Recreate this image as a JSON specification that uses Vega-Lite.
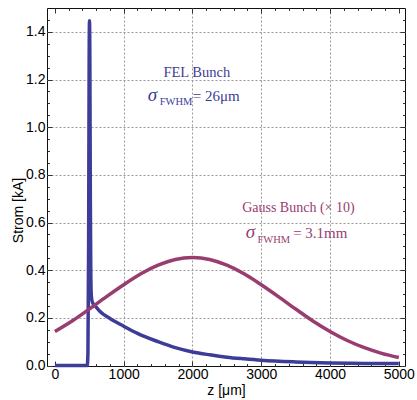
{
  "$schema": "https://vega.github.io/schema/vega-lite/v6.json",
  "width": 358,
  "height": 358,
  "autosize": "none",
  "padding": {"left": 47, "top": 8, "right": 12, "bottom": 34},
  "background": "white",
  "config": {
    "view": {"stroke": "#111", "strokeWidth": 1},
    "axis": {"domain": false, "labelFont": "Liberation Sans", "titleFont": "Liberation Sans", "labelColor": "#000", "titleColor": "#000", "tickColor": "#333", "titleFontWeight": "normal"}
  },
  "datasets": {
    "fel": [
      {"z": 0, "I": 0}, {"z": 470, "I": 0}, {"z": 480, "I": 0.05}, {"z": 490, "I": 0.5},
      {"z": 498, "I": 1.3}, {"z": 503, "I": 1.447}, {"z": 508, "I": 1.3}, {"z": 515, "I": 0.7},
      {"z": 522, "I": 0.38}, {"z": 530, "I": 0.29}, {"z": 545, "I": 0.265}, {"z": 600, "I": 0.245},
      {"z": 652, "I": 0.228}, {"z": 800, "I": 0.197}, {"z": 1000, "I": 0.165}, {"z": 1200, "I": 0.135},
      {"z": 1500, "I": 0.1}, {"z": 1750, "I": 0.075}, {"z": 2000, "I": 0.057}, {"z": 2250, "I": 0.045},
      {"z": 2500, "I": 0.035}, {"z": 2750, "I": 0.028}, {"z": 3000, "I": 0.022}, {"z": 3500, "I": 0.015},
      {"z": 4000, "I": 0.011}, {"z": 4500, "I": 0.009}, {"z": 5000, "I": 0.008}
    ],
    "gauss": [
      {"z": 0, "I": 0.143}, {"z": 250, "I": 0.187}, {"z": 500, "I": 0.237}, {"z": 750, "I": 0.289},
      {"z": 1000, "I": 0.339}, {"z": 1250, "I": 0.385}, {"z": 1500, "I": 0.421}, {"z": 1750, "I": 0.445},
      {"z": 2000, "I": 0.453}, {"z": 2250, "I": 0.445}, {"z": 2500, "I": 0.421}, {"z": 2750, "I": 0.385},
      {"z": 3000, "I": 0.339}, {"z": 3250, "I": 0.289}, {"z": 3500, "I": 0.237}, {"z": 3750, "I": 0.187},
      {"z": 4000, "I": 0.143}, {"z": 4250, "I": 0.105}, {"z": 4500, "I": 0.0747}, {"z": 4750, "I": 0.0511},
      {"z": 5000, "I": 0.0337}
    ]
  },
  "resolve": {"axis": {"x": "independent", "y": "independent"}},
  "layer": [
    {
      "data": {"name": "fel"},
      "mark": {"type": "line", "color": "#3d3d99", "strokeWidth": 3.5, "interpolate": "monotone"},
      "encoding": {
        "x": {"field": "z", "type": "quantitative", "scale": {"domain": [-115, 5090], "nice": false, "zero": false},
          "axis": {"orient": "bottom", "values": [0, 1000, 2000, 3000, 4000, 5000], "format": "d", "ticks": false, "grid": false, "labelFontSize": 14, "labelPadding": 1, "labelFlush": false, "title": "z [μm]", "titleFontSize": 14, "titleBaseline": "alphabetic", "titleY": 28}},
        "y": {"field": "I", "type": "quantitative", "scale": {"domain": [-0.002, 1.5], "nice": false, "zero": false},
          "axis": {"orient": "left", "values": [0, 0.2, 0.4, 0.6, 0.8, 1.0, 1.2, 1.4], "format": ".1f", "ticks": false, "grid": false, "labelFontSize": 14, "labelPadding": 2, "labelFlush": false, "title": "Strom [kA]", "titleFontSize": 14, "titleBaseline": "alphabetic", "titleX": -24.5, "titleY": 202}}
      }
    },
    {
      "data": {"name": "gauss"},
      "mark": {"type": "line", "color": "#993d71", "strokeWidth": 3.5, "interpolate": "monotone"},
      "encoding": {
        "x": {"field": "z", "type": "quantitative", "scale": {"domain": [-115, 5090], "nice": false, "zero": false},
          "axis": {"orient": "bottom", "values": [1000, 2000, 3000, 4000], "labels": false, "ticks": false, "grid": true, "gridColor": "#999", "gridDash": [2, 2], "gridWidth": 1, "title": null}},
        "y": {"field": "I", "type": "quantitative", "scale": {"domain": [-0.002, 1.5], "nice": false, "zero": false},
          "axis": {"orient": "left", "values": [0.2, 0.4, 0.6, 0.8, 1.0, 1.2, 1.4], "labels": false, "ticks": false, "grid": true, "gridColor": "#999", "gridDash": [2, 2], "gridWidth": 1, "title": null}}
      }
    },
    {
      "data": {"values": [{}]},
      "mark": {"type": "text", "text": "FEL Bunch", "font": "Liberation Serif", "fontSize": 14.5, "color": "#3d3d99", "align": "center", "baseline": "alphabetic"},
      "encoding": {
        "x": {"datum": 2063, "type": "quantitative", "scale": {"domain": [-115, 5090], "nice": false, "zero": false},
          "axis": {"orient": "bottom", "values": [0, 1000, 2000, 3000, 4000, 5000], "labels": false, "ticks": true, "tickSize": -5, "grid": false, "title": null}},
        "y": {"datum": 1.2125, "type": "quantitative", "scale": {"domain": [-0.002, 1.5], "nice": false, "zero": false},
          "axis": {"orient": "left", "values": [0, 0.2, 0.4, 0.6, 0.8, 1.0, 1.2, 1.4], "labels": false, "ticks": true, "tickSize": -5, "grid": false, "title": null}}
      }
    },
    {
      "data": {"values": [{}]},
      "mark": {"type": "text", "text": "σ", "font": "Liberation Serif", "fontStyle": "italic", "fontSize": 19, "color": "#3d3d99", "align": "left", "baseline": "alphabetic"},
      "encoding": {
        "x": {"datum": 1349, "type": "quantitative", "scale": {"domain": [-115, 5090], "nice": false, "zero": false},
          "axis": {"orient": "bottom", "values": [200, 400, 600, 800, 1200, 1400, 1600, 1800, 2200, 2400, 2600, 2800, 3200, 3400, 3600, 3800, 4200, 4400, 4600, 4800], "labels": false, "ticks": true, "tickSize": -2.5, "grid": false, "title": null}},
        "y": {"datum": 1.1085, "type": "quantitative", "scale": {"domain": [-0.002, 1.5], "nice": false, "zero": false},
          "axis": {"orient": "left", "values": [0.05, 0.1, 0.15, 0.25, 0.3, 0.35, 0.45, 0.5, 0.55, 0.65, 0.7, 0.75, 0.85, 0.9, 0.95, 1.05, 1.1, 1.15, 1.25, 1.3, 1.35, 1.45], "labels": false, "ticks": true, "tickSize": -2.5, "grid": false, "title": null}}
      }
    },
    {
      "data": {"values": [{}]},
      "mark": {"type": "text", "text": "FWHM", "font": "Liberation Serif", "fontSize": 10.5, "color": "#3d3d99", "align": "left", "baseline": "alphabetic"},
      "encoding": {
        "x": {"datum": 1524, "type": "quantitative", "scale": {"domain": [-115, 5090], "nice": false, "zero": false},
          "axis": {"orient": "top", "values": [0, 1000, 2000, 3000, 4000, 5000], "labels": false, "ticks": true, "tickSize": -5, "grid": false, "title": null}},
        "y": {"datum": 1.092, "type": "quantitative", "scale": {"domain": [-0.002, 1.5], "nice": false, "zero": false},
          "axis": {"orient": "right", "values": [0, 0.2, 0.4, 0.6, 0.8, 1.0, 1.2, 1.4], "labels": false, "ticks": true, "tickSize": -5, "grid": false, "title": null}}
      }
    },
    {
      "data": {"values": [{}]},
      "mark": {"type": "text", "text": "= 26μm", "font": "Liberation Serif", "fontSize": 15, "color": "#3d3d99", "align": "left", "baseline": "alphabetic"},
      "encoding": {
        "x": {"datum": 2004, "type": "quantitative", "scale": {"domain": [-115, 5090], "nice": false, "zero": false},
          "axis": {"orient": "top", "values": [200, 400, 600, 800, 1200, 1400, 1600, 1800, 2200, 2400, 2600, 2800, 3200, 3400, 3600, 3800, 4200, 4400, 4600, 4800], "labels": false, "ticks": true, "tickSize": -2.5, "grid": false, "title": null}},
        "y": {"datum": 1.1085, "type": "quantitative", "scale": {"domain": [-0.002, 1.5], "nice": false, "zero": false},
          "axis": {"orient": "right", "values": [0.05, 0.1, 0.15, 0.25, 0.3, 0.35, 0.45, 0.5, 0.55, 0.65, 0.7, 0.75, 0.85, 0.9, 0.95, 1.05, 1.1, 1.15, 1.25, 1.3, 1.35, 1.45], "labels": false, "ticks": true, "tickSize": -2.5, "grid": false, "title": null}}
      }
    },
    {
      "data": {"values": [{}]},
      "mark": {"type": "text", "text": "Gauss Bunch (× 10)", "font": "Liberation Serif", "fontSize": 14, "color": "#993d71", "align": "center", "baseline": "alphabetic"},
      "encoding": {
        "x": {"datum": 3540, "type": "quantitative", "scale": {"domain": [-115, 5090], "nice": false, "zero": false}, "axis": null},
        "y": {"datum": 0.644, "type": "quantitative", "scale": {"domain": [-0.002, 1.5], "nice": false, "zero": false}, "axis": null}
      }
    },
    {
      "data": {"values": [{}]},
      "mark": {"type": "text", "text": "σ", "font": "Liberation Serif", "fontStyle": "italic", "fontSize": 19, "color": "#993d71", "align": "left", "baseline": "alphabetic"},
      "encoding": {
        "x": {"datum": 2776, "type": "quantitative", "scale": {"domain": [-115, 5090], "nice": false, "zero": false}, "axis": null},
        "y": {"datum": 0.534, "type": "quantitative", "scale": {"domain": [-0.002, 1.5], "nice": false, "zero": false}, "axis": null}
      }
    },
    {
      "data": {"values": [{}]},
      "mark": {"type": "text", "text": "FWHM", "font": "Liberation Serif", "fontSize": 10.5, "color": "#993d71", "align": "left", "baseline": "alphabetic"},
      "encoding": {
        "x": {"datum": 2945, "type": "quantitative", "scale": {"domain": [-115, 5090], "nice": false, "zero": false}, "axis": null},
        "y": {"datum": 0.516, "type": "quantitative", "scale": {"domain": [-0.002, 1.5], "nice": false, "zero": false}, "axis": null}
      }
    },
    {
      "data": {"values": [{}]},
      "mark": {"type": "text", "text": "= 3.1mm", "font": "Liberation Serif", "fontSize": 15, "color": "#993d71", "align": "left", "baseline": "alphabetic"},
      "encoding": {
        "x": {"datum": 3464, "type": "quantitative", "scale": {"domain": [-115, 5090], "nice": false, "zero": false}, "axis": null},
        "y": {"datum": 0.534, "type": "quantitative", "scale": {"domain": [-0.002, 1.5], "nice": false, "zero": false}, "axis": null}
      }
    }
  ]
}
